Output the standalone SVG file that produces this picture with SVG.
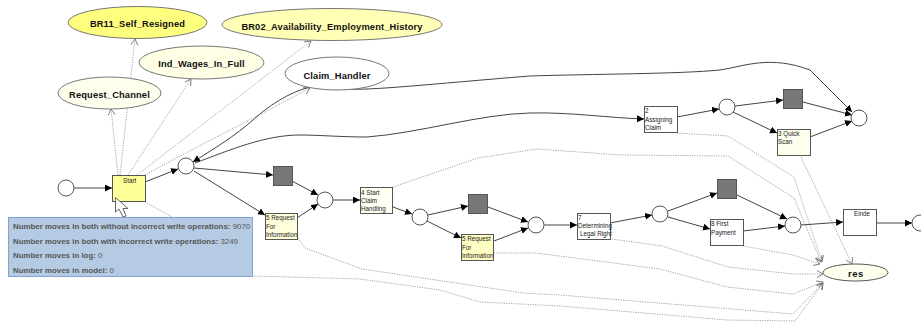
<svg xmlns="http://www.w3.org/2000/svg" width="921" height="322" viewBox="0 0 921 322">
<style>
text{font-family:"Liberation Sans",Arial,sans-serif}
.p{fill:#fff;stroke:#555;stroke-width:1}
.s{fill:#777;stroke:#555;stroke-width:1}
.t{stroke:#555;stroke-width:1}
.t text{font-size:6.300px;fill:#222;stroke:none}
.e{stroke:#777;stroke-width:1}
.e text{font-size:9.300px;font-weight:bold;fill:#111;stroke:none;text-anchor:middle;letter-spacing:.15px}
.a{fill:none;stroke:#444;stroke-width:1;marker-end:url(#f)}
.d{fill:none;stroke:#999;stroke-width:.9;stroke-dasharray:1.2 1.2}
.da{marker-end:url(#o)}
.tip text{font-size:7.900px;font-weight:bold;fill:#555}
.tip tspan{font-weight:normal}
</style>
<defs>
<marker id="f" markerUnits="userSpaceOnUse" markerWidth="8" markerHeight="8" refX="7" refY="3.5" orient="auto"><path d="M0 0L7 3.5L0 7Z" fill="#000"/></marker>
<marker id="o" markerUnits="userSpaceOnUse" markerWidth="9" markerHeight="9" refX="7" refY="4" orient="auto"><path d="M1 .5L7 4L1 7.5" fill="none" stroke="#777" stroke-width=".9"/></marker>
</defs>
<rect width="921" height="322" fill="#fff"/>
<g id="connectors">
<path class="d da" d="M118 175L111 109"/>
<path class="d da" d="M120 175L135 39"/>
<path class="d da" d="M128 175L191 79"/>
<path class="d da" d="M137 175L311 41"/>
<path class="d da" d="M145 175C190 150 260 115 310 88"/>
<path class="d" d="M145 202L172 217"/>
<path class="d da" d="M393 187L478 158L537 149L621 155L728 156L794 198L821 262"/>
<path class="d da" d="M677 133L728 136L794 177L822 262"/>
<path class="d da" d="M800 155L852 264"/>
<path class="d da" d="M612 239L662 246L728 267L793 274L823 274"/>
<path class="d da" d="M743 246L793 255L820 264"/>
<path class="d da" d="M494 253L536 253L660 269L727 287L793 294L823 282"/>
<path class="d da" d="M298 238L305 248L362 269L523 293L560 295L793 314L823 283"/>
<path class="d da" d="M252 276L360 279L440 290L480 302L560 306L727 320L795 321L823 283"/>
<path class="a" d="M74 188H112"/>
<path class="a" d="M145 182L178 169"/>
<path class="a" d="M194 168L273 175"/>
<path class="a" d="M194 171L265 215"/>
<path class="a" d="M292 181L318 195"/>
<path class="a" d="M297 218L318 204"/>
<path class="a" d="M333 200H360"/>
<path class="a" d="M393 207L412 214"/>
<path class="a" d="M428 215L468 206"/>
<path class="a" d="M427 221L461 238"/>
<path class="a" d="M488 207L528 222"/>
<path class="a" d="M494 241L528 228"/>
<path class="a" d="M544 225H577"/>
<path class="a" d="M610 223L652 215"/>
<path class="a" d="M668 211L717 193"/>
<path class="a" d="M668 217L710 229"/>
<path class="a" d="M737 195L787 219"/>
<path class="a" d="M743 231L785 226"/>
<path class="a" d="M801 225L843 222"/>
<path class="a" d="M876 223H912"/>
<path class="a" d="M677 117L719 109"/>
<path class="a" d="M735 106L783 100"/>
<path class="a" d="M733 112L777 133"/>
<path class="a" d="M803 102L852 115"/>
<path class="a" d="M810 137L852 121"/>
<path class="a" d="M195 163C230 150 265 135 300 135C320 135 340 137 367 137C420 133 480 114 530 113C570 112 610 118 644 119"/>
<path class="a" d="M310 87C283 94 262 112 253 120C235 136 215 148 193 162"/>
<path class="a" d="M340 89C370 91 430 84 530 76C590 74 680 74 720 70C745 66 770 55 810 70L852 112"/>
</g>
<g id="n-br11" class="e"><ellipse cx="137.500" cy="22.500" rx="69.500" ry="16" fill="#ffff7f"/><text x="137.500" y="26.500">BR11_Self_Resigned</text></g>
<g id="n-ind" class="e"><ellipse cx="201.500" cy="62.500" rx="62.500" ry="16.500" fill="#ffffe6"/><text x="201.500" y="66.500">Ind_Wages_In_Full</text></g>
<g id="n-req" class="e"><ellipse cx="109.500" cy="93" rx="51.500" ry="16" fill="#ffffee"/><text x="109.500" y="97.500">Request_Channel</text></g>
<g id="n-br02" class="e"><ellipse cx="332" cy="24.500" rx="110" ry="16" fill="#ffffb5"/><text x="332" y="29.500">BR02_Availability_Employment_History</text></g>
<g id="n-claim" class="e"><ellipse cx="337" cy="73.500" rx="52" ry="16.500" fill="#fff"/><text x="337" y="78.500">Claim_Handler</text></g>
<g id="n-res" class="e"><ellipse cx="855.500" cy="272.500" rx="32.500" ry="8.500" fill="#ffffee" stroke="#555"/><text x="856" y="277" style="font-size:9.500px;letter-spacing:.5px">res</text></g>
<g id="p1"><circle class="p" cx="66" cy="188" r="8"/></g>
<g id="p2"><circle class="p" cx="186" cy="166" r="8"/></g>
<g id="p3"><circle class="p" cx="325" cy="200" r="8"/></g>
<g id="p4"><circle class="p" cx="420" cy="217" r="8"/></g>
<g id="p5"><circle class="p" cx="536" cy="225" r="8"/></g>
<g id="p6"><circle class="p" cx="660" cy="214" r="8"/></g>
<g id="p7"><circle class="p" cx="793" cy="225" r="8"/></g>
<g id="p8"><circle class="p" cx="920" cy="223" r="8"/></g>
<g id="p9"><circle class="p" cx="727" cy="107" r="8"/></g>
<g id="p10"><circle class="p" cx="859" cy="118" r="8"/></g>
<g id="s1"><rect class="s" x="273.500" y="166.500" width="19" height="19"/></g>
<g id="s2"><rect class="s" x="468.500" y="194.500" width="19" height="19"/></g>
<g id="s3"><rect class="s" x="717.500" y="179.500" width="19" height="19"/></g>
<g id="s4"><rect class="s" x="783.500" y="89.500" width="19" height="19"/></g>
<g id="t-start" class="t"><rect x="112.500" y="175.500" width="33" height="26" fill="#ffff99"/><text x="123" y="183">Start</text></g>
<g id="t-5a" class="t"><rect x="265.500" y="213.500" width="32" height="26" fill="#ffffdd"/><text x="266" y="220">5 Request</text><text x="266" y="228.500">For</text><text x="266" y="237">Information</text></g>
<g id="t-4" class="t"><rect x="360.500" y="187.500" width="32" height="26" fill="#fffff2"/><text x="361" y="195">4 Start</text><text x="361" y="203">Claim</text><text x="361" y="211">Handling</text></g>
<g id="t-5b" class="t"><rect x="461.500" y="234.500" width="32" height="26" fill="#ffffc4"/><text x="462" y="241">5 Request</text><text x="462" y="249.500">For</text><text x="462" y="257.500">Information</text></g>
<g id="t-7" class="t"><rect x="577.500" y="213.500" width="33" height="26" fill="#fff"/><text x="578" y="220">7</text><text x="578" y="228">Determining</text><text x="580" y="236">Legal Right</text></g>
<g id="t-8" class="t"><rect x="710.500" y="219.500" width="33" height="26" fill="#fff"/><text x="711" y="226">8 First</text><text x="711" y="235">Payment</text></g>
<g id="t-einde" class="t"><rect x="843.500" y="209.500" width="33" height="26" fill="#fff"/><text x="854" y="216">Einde</text></g>
<g id="t-2" class="t"><rect x="644.500" y="106.500" width="33" height="26" fill="#fff"/><text x="645" y="113">2</text><text x="645" y="122">Assigning</text><text x="645" y="130">Claim</text></g>
<g id="t-3" class="t"><rect x="777.500" y="129.500" width="33" height="26" fill="#ffffee"/><text x="778" y="136">3 Quick</text><text x="778" y="144">Scan</text></g>
<g id="tooltip" class="tip"><rect x="8.500" y="217.500" width="244" height="59" fill="#b5cbe3" stroke="#82a3d2"/>
<text x="13" y="229">Number moves in both without incorrect write operations: <tspan>9070</tspan></text>
<text x="13" y="243.500">Number moves in both with incorrect write operations: <tspan>3249</tspan></text>
<text x="13" y="258">Number moves in log: <tspan>0</tspan></text>
<text x="13" y="272.500">Number moves in model: <tspan>0</tspan></text></g>
<path id="cursor" d="M115.500 197.500V212L119 209L123 217L126 216L123 208.500L128 208.500Z" fill="#fff" stroke="#666"/>
</svg>
